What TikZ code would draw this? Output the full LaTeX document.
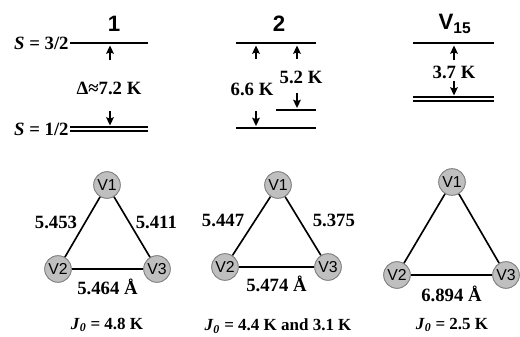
\documentclass[tikz,border=0pt]{standalone}
\usepackage{fontspec}
\setmainfont{Liberation Serif}
\setsansfont{Liberation Sans}
\usetikzlibrary{arrows.meta}

\tikzset{
  level/.style={line width=2.2pt},
  dlevel/.style={line width=1.6pt, double distance=1.8pt},
  gaparrow/.style={line width=1.8pt, -{Stealth[length=7pt,width=6.5pt,inset=1.2pt]}},
  lbl/.style={font=\fontsize{16}{18}\selectfont\bfseries, inner sep=1pt},
  jlbl/.style={font=\fontsize{14.5}{17}\selectfont\bfseries, inner sep=1pt},
  title/.style={font=\sffamily\bfseries\fontsize{19}{21}\selectfont, inner sep=0pt},
  vatom/.style={circle, draw=gray, fill=gray!50, line width=0.8pt,
    minimum size=0.8cm, inner sep=0pt, font=\sffamily\fontsize{13.5}{15}\selectfont},
  bond/.style={line width=1.4pt}
}

\begin{document}
\begin{tikzpicture}[x=0.03cm, y=-0.03cm]
  \useasboundingbox (0,0) rectangle (520,337);

  % energy levels, cluster 1
  \node[title] (t1) at (114,24) {1};
  \coordinate (a1) at (70,43);  \coordinate (b1) at (148,43);
  \coordinate (c1) at (70,129); \coordinate (d1) at (148,129);
  \draw[level] (a1) -- (b1);
  \draw[dlevel] (c1) -- (d1);
  \node[lbl, anchor=east] (s32) at (a1) {\textit{S} = 3/2};
  \node[lbl, anchor=east] (s12) at (c1) {\textit{S} = 1/2};
  \coordinate (p1) at (110,60);  \coordinate (q1) at (110,45.5);
  \coordinate (p2) at (110,111); \coordinate (q2) at (110,125.5);
  \draw[gaparrow] (p1) -- (q1);
  \draw[gaparrow] (p2) -- (q2);
  \node[lbl] (g1) at (109,88) {Δ≈7.2 K};

  % energy levels, cluster 2
  \node[title] (t2) at (279,24) {2};
  \coordinate (a2) at (236,43);  \coordinate (b2) at (316,43);
  \coordinate (c2) at (276,110); \coordinate (d2) at (316,110);
  \coordinate (e2) at (236,128); \coordinate (f2) at (316,128);
  \draw[level] (a2) -- (b2);
  \draw[level] (c2) -- (d2);
  \draw[level] (e2) -- (f2);
  \coordinate (p3) at (256,59);  \coordinate (q3) at (256,45.5);
  \coordinate (p4) at (297,59);  \coordinate (q4) at (297,45.5);
  \coordinate (p5) at (297,93);  \coordinate (q5) at (297,108);
  \coordinate (p6) at (256,111); \coordinate (q6) at (256,126);
  \draw[gaparrow] (p3) -- (q3);
  \draw[gaparrow] (p4) -- (q4);
  \draw[gaparrow] (p5) -- (q5);
  \draw[gaparrow] (p6) -- (q6);
  \node[lbl] (g2) at (301,77) {5.2 K};
  \node[lbl] (g3) at (252,89) {6.6 K};

  % energy levels, V15
  \node[title] (t3) at (455,24) {V\textsubscript{15}};
  \coordinate (a3) at (413,43); \coordinate (b3) at (494,43);
  \coordinate (c3) at (413,99); \coordinate (d3) at (494,99);
  \draw[level] (a3) -- (b3);
  \draw[dlevel] (c3) -- (d3);
  \coordinate (p7) at (454,60); \coordinate (q7) at (454,45.5);
  \coordinate (p8) at (454,81); \coordinate (q8) at (454,95.5);
  \draw[gaparrow] (p7) -- (q7);
  \draw[gaparrow] (p8) -- (q8);
  \node[lbl] (g4) at (454,72) {3.7 K};

  % triangles
  \node[vatom] (v11) at (107,185) {V1};
  \node[vatom] (v12) at (58,269)  {V2};
  \node[vatom] (v13) at (157,269) {V3};
  \draw[bond] (v11) -- node[lbl, pos=.43, left=5pt] {5.453} (v12);
  \draw[bond] (v11) -- node[lbl, pos=.43, right=3.7pt] {5.411} (v13);
  \draw[bond] (v12) -- node[lbl, below=7pt] {5.464 Å} (v13);
  \node[jlbl] (j1) at (107,325) {\textit{J}\textsubscript{\textit{0}} = 4.8 K};

  \node[vatom] (v21) at (278,185) {V1};
  \node[vatom] (v22) at (225,267) {V2};
  \node[vatom] (v23) at (328,267) {V3};
  \draw[bond] (v21) -- node[lbl, pos=.4, left=7.8pt] {5.447} (v22);
  \draw[bond] (v21) -- node[lbl, pos=.4, right=9.7pt] {5.375} (v23);
  \draw[bond] (v22) -- node[lbl, below=6pt] {5.474 Å} (v23);
  \node[jlbl] (j2) at (278,326) {\textit{J}\textsubscript{\textit{0}} = 4.4 K and 3.1 K};

  \node[vatom] (v31) at (452,182) {V1};
  \node[vatom] (v32) at (397,275) {V2};
  \node[vatom] (v33) at (506,275) {V3};
  \draw[bond] (v31) -- (v32);
  \draw[bond] (v31) -- (v33);
  \draw[bond] (v32) -- node[lbl, below=8pt] {6.894 Å} (v33);
  \node[jlbl] (j3) at (452,325) {\textit{J}\textsubscript{\textit{0}} = 2.5 K};
\end{tikzpicture}
\end{document}
